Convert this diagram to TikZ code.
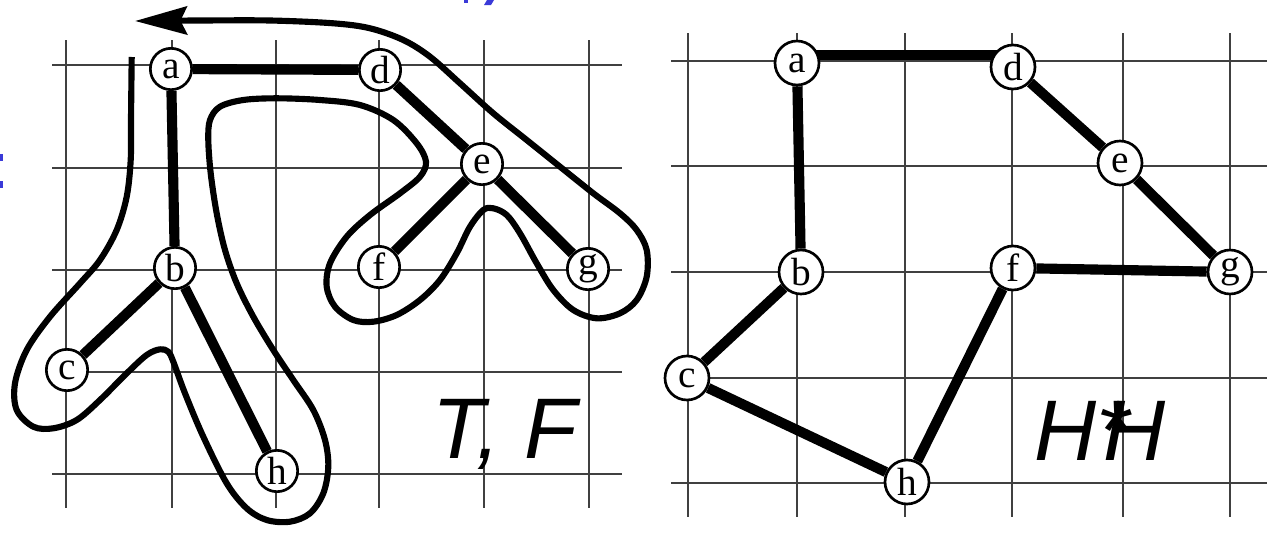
\documentclass[tikz,border=0pt]{standalone}
\usepackage{fontspec}
\setmainfont{Liberation Serif}
\newfontfamily\lsans{Liberation Sans}
\usetikzlibrary{arrows.meta,calc}
\pgfdeclarelayer{bg}
\pgfsetlayers{bg,main}
\definecolor{slideblue}{RGB}{58,58,216}
\begin{document}
\begin{tikzpicture}[x=0.75pt,y=-0.75pt,
  grid/.style={line width=1pt, black!75},
  vtx/.style={circle, draw, line width=2pt, fill=white, inner sep=0pt, minimum size=31pt, font=\fontsize{29.5}{29.5}\selectfont},
  vtxr/.style={vtx, minimum size=33pt},
  edge/.style={line width=7.6pt},
  tour/.style={line width=4.6pt, line join=round},
  big/.style={font=\lsans\itshape\fontsize{64.5}{70}\selectfont, inner sep=0pt, anchor=base west}]
\useasboundingbox (0,0) rectangle (1267,532);
\begin{pgfonlayer}{bg}
\foreach \x in {66,172,276,379,484,589} \draw[grid] (\x,40) -- (\x,508);
\foreach \y in {65,168,270,372,474} \draw[grid] (52,\y) -- (622,\y);
\foreach \x in {688,797,905,1012,1123,1230} \draw[grid] (\x,33) -- (\x,517);
\foreach \y in {61,166,272,378,483} \draw[grid] (671,\y) -- (1267,\y);
\end{pgfonlayer}
% left panel: tree T
\node[vtx] (a1) at (171,69) {a};
\node[vtx] (b1) at (175,268) {b};
\node[vtx] (c1) at (67,370) {c};
\node[vtx] (d1) at (380,70) {d};
\node[vtx] (e1) at (482,164) {e};
\node[vtx] (f1) at (379,267) {f};
\node[vtx] (g1) at (588,269) {g};
\node[vtx] (h1) at (277,471) {h};
% right panel: tour
\node[vtxr] (a2) at (797,63) {a};
\node[vtxr] (b2) at (801,272) {b};
\node[vtxr] (c2) at (687,378) {c};
\node[vtxr] (d2) at (1013,67) {d};
\node[vtxr] (e2) at (1120,163) {e};
\node[vtxr] (f2) at (1013,268) {f};
\node[vtxr] (g2) at (1230,272) {g};
\node[vtxr] (h2) at (907,482) {h};
\begin{pgfonlayer}{bg}
\draw[edge] (a1) -- (d1);
\draw[edge] (a1) -- (b1);
\draw[edge] (d1) -- (e1);
\draw[edge] (e1) -- (f1);
\draw[edge] (e1) -- (g1);
\draw[edge] (b1) -- (c1);
\draw[edge] (b1) -- (h1);
\draw[edge] ([yshift=6pt]a2.center) -- ([yshift=6pt]a2.center -| d2.center);
\draw[edge] (a2) -- (b2);
\draw[edge] (d2) -- (e2);
\draw[edge] (e2) -- (g2);
\draw[edge] (g2) -- (f2);
\draw[edge] (f2) -- (h2);
\draw[edge] (h2) -- (c2);
\draw[edge] (c2) -- (b2);
\end{pgfonlayer}
% Euler tour around the tree
\draw[tour, -{Stealth[length=39pt, width=21pt, inset=5pt]}] plot[smooth, tension=0.55] coordinates {
(131.7,57) (131,120) (130.7,160) (126.7,196.7) (116.7,230) (100,260) (80,283.3) (50,316.7) (26.7,350) (15,383.3) (16.7,410) (33.3,426.7) (53.3,428.3) (76.7,420) (100,400) (126.7,373.3) (146.7,355) (160,349.3) (168.3,351.7) (173.3,361.7) (185,393.3) (203.3,436.7) (226.7,483.3) (246.7,508.3) (266.7,520) (290,521.7) (310,513.3) (323.3,493.3) (328.3,466.7) (325,440) (313.3,410) (293.3,380) (273.3,350) (253.3,316.7) (236.7,283.3) (225,250) (216.7,213.3) (210.7,173.3) (208.3,140) (210,120) (220,106.7) (243.3,100) (276.7,98.3) (320,100) (360,105) (393.3,120) (416.7,143.3) (426,161.7) (420,176.7) (400,193.3) (370,215) (346.7,236.7) (330,263.3) (326.7,286.7) (335,306.7) (353.3,320) (373.3,321.7) (396.7,315) (420,300) (440,280) (456.7,253.3) (470,226.7) (483.3,210) (493.3,208.3) (506.7,215) (520,233.3) (536.7,263.3) (553.3,290) (573.3,310) (596.7,318.3) (620,313.3) (636.7,300) (646.7,276.7) (646.7,250) (636.7,230) (620,213.3) (593.3,193.3) (560,166.7) (526.7,140) (493.3,113.3) (460,83.3) (430,56.7) (403.3,40) (370,28.3) (333.3,23.3) (270,20.5) (200,20.5) (135,21)};
% labels
\node[big] (tf) at (432,458) {T, F};
\node[big] (hh) at (1034,460) {H\rlap{*}\kern0.08em H};
% cut-off blue marks of the slide
\fill[slideblue] (0,154) rectangle (3,161);
\fill[slideblue] (0,181) rectangle (3,188);
\fill[slideblue] (464,0) rectangle (468,3);
\fill[slideblue] (487,0) -- (494,0) -- (491,5) -- (484,5) -- cycle;
\end{tikzpicture}
\end{document}
